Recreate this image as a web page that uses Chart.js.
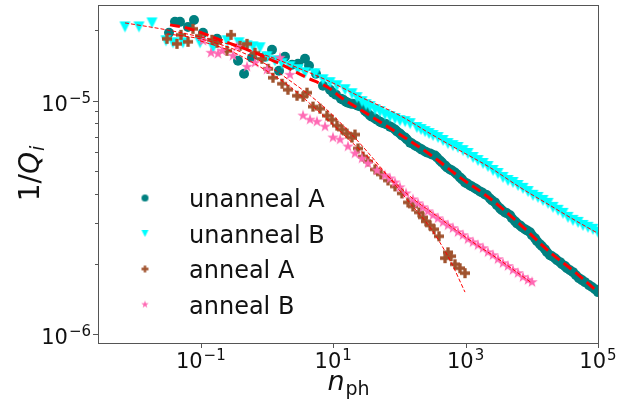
<!DOCTYPE html>
<html>
<head>
<meta charset="utf-8">
<script src="https://cdn.jsdelivr.net/npm/chart.js@4.4.1/dist/chart.umd.min.js"></script>
<style>
  html, body { margin: 0; padding: 0; background: #fff; }
</style>
</head>
<body>
<canvas id="c" width="618" height="409"></canvas>
<script>
/* 1/Q_i vs n_ph — log-log scatter with fit curves */
'use strict';

// ── Data ─────────────────────────────────────────────────────────────────

var unannealAX = [0.0331, 0.0407, 0.0485, 0.0641, 0.0789, 0.108, 0.176, 0.365, 0.450, 0.593,
	0.933, 1.19, 1.52, 1.87, 2.39, 2.94, 3.75, 4.31, 5.50, 7.02,
	8.95, 11.0, 13.1, 15.6, 18.6, 22.1, 26.3, 30.2, 36.0, 42.8,
	50.9, 60.6, 72.1, 85.9, 102, 122, 145, 172, 205, 244,
	290, 345, 410, 489, 581, 691, 822, 979, 1164, 1386,
	1650, 1963, 2336, 2780, 3310, 3940, 4690, 5580, 6640, 7890,
	9400, 11200, 13300, 15800, 18800, 22400, 26700, 31700, 37800, 46500,
	57300, 73100, 90100, 100000,
	9.93, 14.1, 16.7, 19.9, 23.7, 32.4, 38.5, 45.9, 54.6, 65.0,
	77.3, 92.0, 109, 130, 155, 184, 219, 261, 310, 370,
	440, 524, 624, 742, 883, 1050, 1250, 1487, 1770, 2105,
	2505, 2980, 3548, 4220, 5020, 5970, 7110, 8460, 10070, 12000,
	14260, 16980, 20200, 24040, 28600, 34000, 41900, 51600, 63600, 81100,
	96600];
var unannealAY = [1.953e-5, 2.176e-5, 2.176e-5, 2.071e-5, 2.218e-5, 1.953e-5, 1.841e-5, 1.482e-5, 1.304e-5, 1.527e-5,
	1.542e-5, 1.652e-5, 1.343e-5, 1.542e-5, 1.425e-5, 1.439e-5, 1.512e-5, 1.411e-5, 1.304e-5, 1.159e-5,
	1.114e-5, 1.061e-5, 1.020e-5, 9.90e-6, 9.71e-6, 9.61e-6, 9.43e-6, 9.06e-6, 8.63e-6, 8.38e-6,
	8.13e-6, 7.97e-6, 7.74e-6, 7.52e-6, 7.23e-6, 6.95e-6, 6.61e-6, 6.42e-6, 6.24e-6, 6.05e-6,
	5.94e-6, 5.82e-6, 5.54e-6, 5.28e-6, 5.07e-6, 4.92e-6, 4.69e-6, 4.46e-6, 4.33e-6, 4.21e-6,
	4.08e-6, 3.965e-6, 3.81e-6, 3.665e-6, 3.455e-6, 3.32e-6, 3.225e-6, 3.04e-6, 2.92e-6, 2.81e-6,
	2.73e-6, 2.57e-6, 2.425e-6, 2.309e-6, 2.176e-6, 2.113e-6, 2.032e-6, 1.954e-6, 1.877e-6, 1.786e-6,
	1.702e-6, 1.62e-6, 1.557e-6, 1.512e-6,
	1.082e-5, 1.010e-5, 9.80e-6, 9.71e-6, 9.52e-6, 8.89e-6, 8.54e-6, 8.29e-6, 8.05e-6, 7.90e-6,
	7.67e-6, 7.37e-6, 7.09e-6, 6.81e-6, 6.55e-6, 6.36e-6, 6.17e-6, 6.00e-6, 5.88e-6, 5.71e-6,
	5.43e-6, 5.17e-6, 5.02e-6, 4.83e-6, 4.60e-6, 4.42e-6, 4.29e-6, 4.165e-6, 4.045e-6, 3.93e-6,
	3.737e-6, 3.56e-6, 3.39e-6, 3.29e-6, 3.131e-6, 2.98e-6, 2.866e-6, 2.78e-6, 2.65e-6, 2.497e-6,
	2.377e-6, 2.24e-6, 2.154e-6, 2.071e-6, 1.99e-6, 1.914e-6, 1.841e-6, 1.735e-6, 1.668e-6, 1.589e-6,
	1.542e-6];

var unannealBX = [0.00716, 0.01164, 0.0183, 0.0298, 0.0380, 0.0538, 0.0973, 0.153, 0.249, 0.378,
	0.499, 0.615, 0.784, 1.0, 1.32, 1.69, 2.22, 2.94, 3.75, 5.31,
	7.02, 8.95, 11.4, 15.1, 19.2, 22.9, 27.2, 31.3, 36.0, 42.8,
	50.9, 60.6, 72.1, 85.9, 102, 122, 145, 184, 212, 244,
	280, 322, 383, 456, 542, 645, 767, 914, 1087, 1294,
	1538, 1832, 2178, 2594, 3085, 3672, 4365, 5200, 6190, 7362,
	8770, 10420, 12400, 14760, 17600, 20900, 24900, 29600, 35200, 41900,
	49900, 59300, 70600, 84000, 100000];
var unannealBY = [2.071e-5, 2.071e-5, 2.154e-5, 1.805e-5, 1.770e-5, 1.770e-5, 1.770e-5, 1.685e-5, 1.805e-5, 1.770e-5,
	1.718e-5, 1.701e-5, 1.685e-5, 1.542e-5, 1.482e-5, 1.439e-5, 1.397e-5, 1.357e-5, 1.317e-5, 1.304e-5,
	1.229e-5, 1.194e-5, 1.159e-5, 1.114e-5, 1.071e-5, 1.030e-5, 9.90e-6, 9.61e-6, 9.43e-6, 9.15e-6,
	8.97e-6, 8.71e-6, 8.54e-6, 8.38e-6, 8.21e-6, 8.13e-6, 7.97e-6, 7.67e-6, 7.52e-6, 7.37e-6,
	7.23e-6, 7.09e-6, 6.95e-6, 6.75e-6, 6.55e-6, 6.42e-6, 6.30e-6, 6.11e-6, 5.94e-6, 5.71e-6,
	5.54e-6, 5.38e-6, 5.22e-6, 5.02e-6, 4.875e-6, 4.69e-6, 4.55e-6, 4.46e-6, 4.33e-6, 4.21e-6,
	4.08e-6, 3.93e-6, 3.85e-6, 3.737e-6, 3.63e-6, 3.49e-6, 3.39e-6, 3.29e-6, 3.162e-6, 3.07e-6,
	3.01e-6, 2.92e-6, 2.866e-6, 2.81e-6, 2.73e-6];

var annealAX = [0.0308, 0.0437, 0.0502, 0.0641, 0.0762, 0.0973, 0.1476, 0.176, 0.249, 0.286,
	0.391, 0.499, 0.659, 0.840, 1.04, 1.23, 1.69, 2.07, 2.84, 3.50,
	4.02, 4.95, 6.32, 8.06, 9.59, 11.4, 13.6, 16.1, 19.2, 21.3,
	23.7, 28.2, 33.5, 42.8, 52.7, 67.3, 85.9, 109, 135, 160,
	198, 227, 252, 290, 333, 396, 489, 542, 602, 691,
	822, 979];
var annealAY = [1.841e-5, 1.752e-5, 1.914e-5, 1.788e-5, 2.031e-5, 1.896e-5, 1.823e-5, 1.770e-5, 1.636e-5, 1.914e-5,
	1.718e-5, 1.752e-5, 1.604e-5, 1.512e-5, 1.370e-5, 1.254e-5, 1.182e-5, 1.114e-5, 1.050e-5, 1.040e-5,
	1.082e-5, 9.43e-6, 9.24e-6, 8.63e-6, 8.29e-6, 7.82e-6, 7.52e-6, 7.23e-6, 6.95e-6, 7.16e-6,
	6.24e-6, 5.76e-6, 5.49e-6, 5.07e-6, 4.83e-6, 4.55e-6, 4.29e-6, 4.005e-6, 3.665e-6, 3.52e-6,
	3.32e-6, 3.162e-6, 3.04e-6, 2.92e-6, 2.81e-6, 2.623e-6, 2.113e-6, 2.24e-6, 2.154e-6, 1.99e-6,
	1.914e-6, 1.823e-6];

var annealBX = [0.108, 0.1426, 0.182, 0.209, 0.306, 0.352, 0.499, 0.659, 1.0, 1.57,
	2.22, 3.50, 4.47, 5.69, 7.52, 9.93, 12.7, 16.7, 21.3, 27.2,
	33.5, 45.9, 60.6, 72.1, 85.9, 102, 126, 160, 191, 227,
	270, 322, 383, 456, 542, 645, 767, 914, 1087, 1294,
	1538, 1832, 2178, 2594, 3085, 3672, 4365, 5200, 6190, 7362,
	8770, 10070];
var annealBY = [1.805e-5, 1.604e-5, 1.588e-5, 1.636e-5, 1.557e-5, 1.701e-5, 1.397e-5, 1.453e-5, 1.357e-5, 1.527e-5,
	1.291e-5, 8.63e-6, 8.29e-6, 8.13e-6, 7.74e-6, 6.95e-6, 6.81e-6, 6.36e-6, 5.94e-6, 5.65e-6,
	5.38e-6, 5.02e-6, 4.78e-6, 4.64e-6, 4.46e-6, 4.25e-6, 4.005e-6, 3.775e-6, 3.63e-6, 3.49e-6,
	3.355e-6, 3.225e-6, 3.131e-6, 3.01e-6, 2.92e-6, 2.84e-6, 2.73e-6, 2.65e-6, 2.546e-6, 2.472e-6,
	2.40e-6, 2.332e-6, 2.24e-6, 2.176e-6, 2.091e-6, 2.01e-6, 1.954e-6, 1.877e-6, 1.823e-6, 1.752e-6,
	1.702e-6, 1.668e-6];

// Fit curves (red dashed)
var fitUnannealAX = [0.0343, 0.0687, 0.195, 0.553, 1.57, 3.75, 8.95, 12.7, 36.0, 102, 290, 822, 2336, 6640, 18800, 45000, 100000];
var fitUnannealAY = [2.112e-5, 2.031e-5, 1.823e-5, 1.636e-5, 1.439e-5, 1.266e-5, 1.125e-5, 1.040e-5, 8.63e-6, 7.16e-6, 5.88e-6, 4.69e-6, 3.81e-6, 2.952e-6, 2.24e-6, 1.841e-6, 1.512e-6];
var fitUnannealBX = [0.00716, 0.0367, 0.195, 1.11, 3.15, 8.95, 25.4, 102, 290, 822, 2336, 6640, 18800, 45000, 100000];
var fitUnannealBY = [2.154e-5, 1.991e-5, 1.788e-5, 1.542e-5, 1.370e-5, 1.206e-5, 1.040e-5, 8.63e-6, 7.23e-6, 6.11e-6, 5.17e-6, 4.25e-6, 3.56e-6, 3.07e-6, 2.70e-6];
var fitAnnealAX = [0.0308, 0.0973, 0.276, 0.784, 2.22, 6.32, 17.9, 50.9, 145, 290, 581, 979];
var fitAnnealAY = [1.934e-5, 1.841e-5, 1.685e-5, 1.482e-5, 1.218e-5, 9.71e-6, 7.30e-6, 5.22e-6, 3.63e-6, 2.866e-6, 2.071e-6, 1.512e-6];
var fitAnnealBX = [0.0973, 0.276, 0.784, 2.22, 6.32, 17.9, 50.9, 145, 410, 1164, 3310, 10070];
var fitAnnealBY = [1.805e-5, 1.636e-5, 1.397e-5, 1.148e-5, 8.88e-6, 6.75e-6, 5.12e-6, 3.89e-6, 3.131e-6, 2.522e-6, 2.071e-6, 1.652e-6];

// Axes
var X_MIN = 0.0028, X_MAX = 1e5;
var Y_MIN = 9.15e-7, Y_MAX = 2.57e-5;
var xMajorTicks = [0.1, 10, 1000, 100000];
var xTickExps   = ['\u22121', '1', '3', '5'];
var yMajorTicks = [1e-5, 1e-6];
var yTickExps   = ['\u22125', '\u22126'];
var yMinorTicks = [2e-6, 3e-6, 4e-6, 5e-6, 6e-6, 7e-6, 8e-6, 9e-6, 2e-5];

var seriesNames = ['unanneal A', 'unanneal B', 'anneal A', 'anneal B'];

// ── Markers ──────────────────────────────────────────────────────────────

var FONT = '"DejaVu Sans", "Liberation Sans", sans-serif';
var TEAL = '#008080', CYAN = '#00ffff', SIENNA = '#a0522d', PINK = '#ff69b4';

function marker(kind, size, color) {
	var s = Math.ceil(size) + 2;
	var cv = document.createElement('canvas');
	cv.width = s; cv.height = s;
	var g = cv.getContext('2d');
	var r = size / 2;
	g.fillStyle = color;
	g.translate(s / 2, s / 2);
	g.beginPath();
	if (kind === 'tri') {
		g.moveTo(-r, -r); g.lineTo(r, -r); g.lineTo(0, r);
	} else if (kind === 'plus') {
		var t = r / 3;
		g.moveTo(-t, -r); g.lineTo(t, -r); g.lineTo(t, -t); g.lineTo(r, -t);
		g.lineTo(r, t); g.lineTo(t, t); g.lineTo(t, r); g.lineTo(-t, r);
		g.lineTo(-t, t); g.lineTo(-r, t); g.lineTo(-r, -t); g.lineTo(-t, -t);
	} else if (kind === 'star') {
		for (var i = 0; i < 10; i++) {
			var ang = -Math.PI / 2 + i * Math.PI / 5;
			var rad = i % 2 ? r * 0.382 : r;
			g.lineTo(Math.cos(ang) * rad, Math.sin(ang) * rad);
		}
	} else {
		g.arc(0, 0, r, 0, Math.PI * 2);
	}
	g.closePath();
	g.fill();
	return cv;
}

var triMark  = marker('tri', 11, CYAN);
var plusMark = marker('plus', 10, SIENNA);
var starMark = marker('star', 12, PINK);

var legendMarks = [
	marker('circle', 7, TEAL),
	marker('tri', 7, CYAN),
	marker('plus', 7, SIENNA),
	marker('star', 8, PINK)
];

function pts(xs, ys) {
	return xs.map(function (x, i) { return { x: x, y: ys[i] }; });
}

function fitLine(xs, ys, width, dash) {
	return {
		data: pts(xs, ys),
		showLine: true,
		pointRadius: 0,
		borderColor: '#ff0000',
		borderWidth: width,
		borderDash: dash,
		cubicInterpolationMode: 'monotone',
		fill: false,
		order: 0
	};
}

// ── Decorations: frame, ticks, labels, titles, legend ────────────────────

function drawPow(ctx, exp, x, y, align) {
	ctx.font = '21px ' + FONT;
	var wb = ctx.measureText('10').width;
	ctx.font = '15px ' + FONT;
	var we = ctx.measureText(exp).width;
	var total = wb + 1 + we;
	var x0 = align === 'center' ? x - total / 2 : x - total;
	ctx.textAlign = 'left';
	ctx.textBaseline = 'alphabetic';
	ctx.font = '21px ' + FONT;
	ctx.fillText('10', x0, y);
	ctx.font = '15px ' + FONT;
	ctx.fillText(exp, x0 + wb + 1, y - 8);
}

var decor = {
	id: 'decor',
	afterDatasetsDraw: function (chart) {
		var ctx = chart.ctx, a = chart.chartArea;
		var xs = chart.scales.x, ys = chart.scales.y;
		ctx.save();

		ctx.strokeStyle = '#555';
		ctx.lineWidth = 1;
		ctx.strokeRect(a.left + 0.5, a.top + 0.5, a.right - a.left, a.bottom - a.top);

		ctx.fillStyle = '#111';
		ctx.beginPath();
		xMajorTicks.forEach(function (v) {
			var px = Math.round(xs.getPixelForValue(v)) + 0.5;
			ctx.moveTo(px, a.bottom); ctx.lineTo(px, a.bottom + 5);
		});
		yMajorTicks.forEach(function (v) {
			var py = Math.round(ys.getPixelForValue(v)) + 0.5;
			ctx.moveTo(a.left, py); ctx.lineTo(a.left - 5, py);
		});
		yMinorTicks.forEach(function (v) {
			var py = Math.round(ys.getPixelForValue(v)) + 0.5;
			ctx.moveTo(a.left, py); ctx.lineTo(a.left - 3, py);
		});
		ctx.stroke();

		xMajorTicks.forEach(function (v, i) {
			drawPow(ctx, xTickExps[i], xs.getPixelForValue(v), a.bottom + 25, 'center');
		});
		yMajorTicks.forEach(function (v, i) {
			drawPow(ctx, yTickExps[i], a.left - 7, ys.getPixelForValue(v) + 10, 'right');
		});

		// x title: n_ph
		ctx.textBaseline = 'alphabetic';
		ctx.textAlign = 'left';
		ctx.font = 'italic 27px ' + FONT;
		var wn = ctx.measureText('n').width;
		ctx.font = '19px ' + FONT;
		var wp = ctx.measureText('ph').width;
		var cx = (a.left + a.right) / 2 - (wn + wp) / 2;
		ctx.font = 'italic 27px ' + FONT;
		ctx.fillText('n', cx, 390);
		ctx.font = '19px ' + FONT;
		ctx.fillText('ph', cx + wn + 1, 395);

		// y title: 1/Q_i
		ctx.save();
		ctx.translate(30, (a.top + a.bottom) / 2);
		ctx.rotate(-Math.PI / 2);
		ctx.font = '28px ' + FONT;
		var w1 = ctx.measureText('1/').width;
		ctx.font = 'italic 28px ' + FONT;
		var wq = ctx.measureText('Q').width;
		ctx.font = 'italic 19px ' + FONT;
		var wi = ctx.measureText('i').width;
		var sx = -(w1 + wq + wi) / 2;
		ctx.font = '28px ' + FONT;
		ctx.fillText('1/', sx, 9);
		ctx.font = 'italic 28px ' + FONT;
		ctx.fillText('Q', sx + w1, 9);
		ctx.font = 'italic 19px ' + FONT;
		ctx.fillText('i', sx + w1 + wq + 1, 14);
		ctx.restore();

		// legend (inside, lower left, no frame)
		var baseY = [207, 242.5, 278, 313.5];
		ctx.font = '24px ' + FONT;
		ctx.fillStyle = '#111';
		seriesNames.forEach(function (name, i) {
			var m = legendMarks[i];
			ctx.drawImage(m, 145 - m.width / 2, baseY[i] - 9 - m.height / 2);
			ctx.fillText(name, 189, baseY[i]);
		});

		ctx.restore();
	}
};

// ── Chart ────────────────────────────────────────────────────────────────

new Chart(document.getElementById('c'), {
	type: 'scatter',
	data: {
		datasets: [
			fitLine(fitUnannealAX, fitUnannealAY, 3, [10, 5]),
			fitLine(fitUnannealBX, fitUnannealBY, 1, [4, 2]),
			fitLine(fitAnnealAX, fitAnnealAY, 1, [4, 2]),
			fitLine(fitAnnealBX, fitAnnealBY, 1, [4, 2]),
			{ label: seriesNames[3], data: pts(annealBX, annealBY), pointStyle: starMark, pointRadius: 5, borderWidth: 0, order: 1 },
			{ label: seriesNames[2], data: pts(annealAX, annealAY), pointStyle: plusMark, pointRadius: 5, borderWidth: 0, order: 2 },
			{ label: seriesNames[1], data: pts(unannealBX, unannealBY), pointStyle: triMark, pointRadius: 5, borderWidth: 0, order: 3 },
			{ label: seriesNames[0], data: pts(unannealAX, unannealAY), pointStyle: 'circle', pointRadius: 5, backgroundColor: TEAL, borderWidth: 0, order: 4 }
		]
	},
	options: {
		responsive: false,
		animation: false,
		events: [],
		layout: { padding: { left: 98, right: 20, top: 4, bottom: 66 } },
		plugins: { legend: { display: false }, tooltip: { enabled: false } },
		scales: {
			x: { type: 'logarithmic', min: X_MIN, max: X_MAX, display: false },
			y: { type: 'logarithmic', min: Y_MIN, max: Y_MAX, display: false }
		}
	},
	plugins: [decor]
});
</script>
</body>
</html>
